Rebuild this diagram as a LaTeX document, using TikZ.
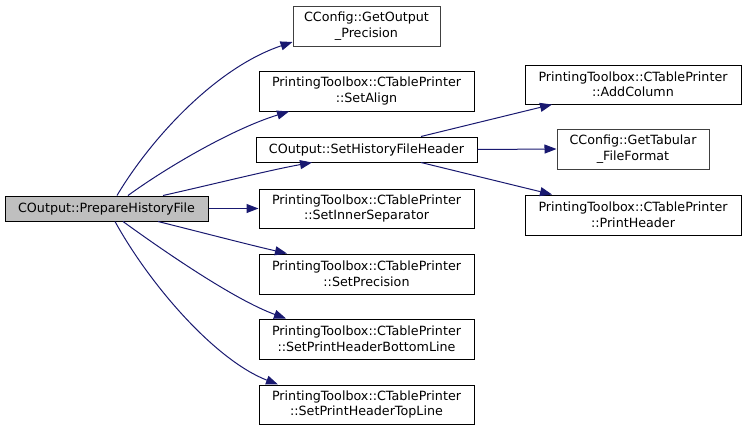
\documentclass[tikz,border=0pt]{standalone}
\usepackage{fontspec}
\setmainfont{DejaVu Sans}
\usetikzlibrary{arrows.meta}
\definecolor{edgeblue}{HTML}{191970}
\definecolor{nodegray}{HTML}{BFBFBF}
\tikzset{
  fn/.style={draw=black, line width=1pt, fill=white, align=center, inner sep=0pt,
    font=\fontsize{12.7}{15.5}\selectfont},
  fnb/.style={fn, draw=black!75},
  edge/.style={draw=edgeblue, line width=1pt, -{Triangle[length=12pt,width=9pt]}}
}
\begin{document}
\begin{tikzpicture}[x=1pt,y=-1pt]
\useasboundingbox (0,0) rectangle (747,431);
\node[fn, fill=nodegray, minimum width=203pt, minimum height=25pt] (A) at (106.5,208.5) {COutput::PrepareHistoryFile};
\node[fnb, minimum width=147pt, minimum height=40pt] (B) at (366.5,26) {CConfig::GetOutput\\\_Precision};
\node[fn, minimum width=215pt, minimum height=40pt] (C) at (366.5,91) {PrintingToolbox::CTablePrinter\\::SetAlign};
\node[fn, minimum width=221pt, minimum height=25pt] (D) at (366.5,149.5) {COutput::SetHistoryFileHeader};
\node[fn, minimum width=215pt, minimum height=39pt] (E) at (366.5,208.5) {PrintingToolbox::CTablePrinter\\::SetInnerSeparator};
\node[fn, minimum width=215pt, minimum height=40pt] (F) at (366.5,274) {PrintingToolbox::CTablePrinter\\::SetPrecision};
\node[fn, minimum width=215pt, minimum height=40pt] (G) at (366.5,339) {PrintingToolbox::CTablePrinter\\::SetPrintHeaderBottomLine};
\node[fn, minimum width=215pt, minimum height=39pt] (H) at (366.5,404.5) {PrintingToolbox::CTablePrinter\\::SetPrintHeaderTopLine};
\node[fn, minimum width=216pt, minimum height=39pt] (I) at (633,84.5) {PrintingToolbox::CTablePrinter\\::AddColumn};
\node[fnb, minimum width=152pt, minimum height=40pt] (J) at (633,149) {CConfig::GetTabular\\\_FileFormat};
\node[fn, minimum width=216pt, minimum height=40pt] (K) at (633,215) {PrintingToolbox::CTablePrinter\\::PrintHeader};

% edges from A
\draw[edge] ([xshift=10.5pt]A.north) .. controls (150,140) and (215,68) .. ([yshift=-16pt]B.west);
\draw[edge] ([xshift=21.5pt]A.north) .. controls (170,165) and (235,128) .. ([xshift=-77.5pt]C.south);
\draw[edge] ([xshift=56.5pt]A.north) .. controls (210,185) and (270,170) .. ([xshift=-54.5pt]D.south);
\draw[edge] (A.east) -- (E.west);
\draw[edge] ([xshift=51.5pt]A.south) .. controls (200,232) and (250,245) .. ([xshift=-79.5pt]F.north);
\draw[edge] ([xshift=16.5pt]A.south) .. controls (165,252) and (235,300) .. ([xshift=-80.5pt]G.north);
\draw[edge] ([xshift=8.5pt]A.south) .. controls (150,285) and (215,360) .. ([xshift=-88.5pt]H.north);
% edges from D
\draw[edge] ([xshift=54.5pt]D.north) -- ([xshift=-81pt]I.south);
\draw[edge] (D.east) -- (J.west);
\draw[edge] ([xshift=54.5pt]D.south) -- ([xshift=-81pt]K.north);
\end{tikzpicture}
\end{document}
